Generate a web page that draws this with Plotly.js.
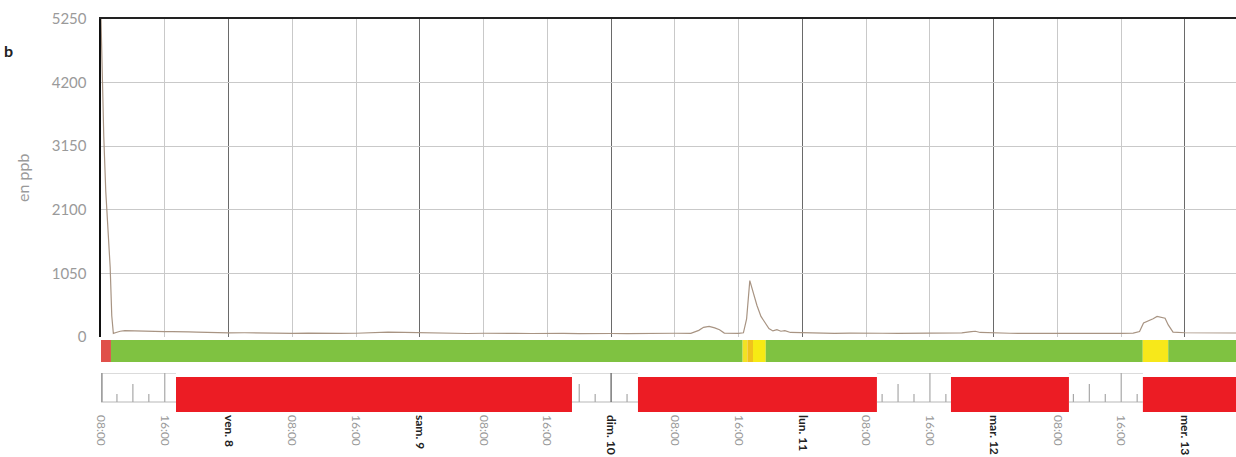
<!DOCTYPE html>
<html>
<head>
<meta charset="utf-8">
<script src="https://cdn.plot.ly/plotly-3.0.1.min.js"></script>
<style>html,body{margin:0;padding:0;background:#fff;}#chart{width:1236px;height:457px;}</style>
</head>
<body>
<div id="chart"></div>
<script>
// Time in hours since Thu 7, 08:00
const hours = [0,0.15,0.35,0.6,0.9,1.15,1.35,1.55,1.9,2.4,
  3,4,5,6,7,8,9,10,11,12,
  14,16,18,20,22,24,26,28,30,32,
  34,36,38,40,42,44,46,48,50,52,
  54,56,58,60,62,64,66,68,70,72,
  74,75,75.6,76.3,77,77.6,78.2,79,80,80.6,
  81,81.4,81.8,82.3,82.8,83.3,83.8,84.3,84.8,85.3,
  85.8,86.5,88,90,92,94,96,98,100,102,
  104,106,108,109.2,109.7,110.3,112,114,116,118,
  120,122,124,126,128,129.5,130.3,130.8,131.4,132,
  132.5,133,133.5,133.9,134.5,136,138,140,142.4];
const ppb = [5250,4300,3300,2400,1700,1150,350,60,75,95,
  105,100,95,92,96,90,88,90,85,80,
  72,68,70,65,62,60,64,58,60,62,
  75,82,78,70,66,60,58,62,65,60,
  58,64,60,56,62,58,55,60,58,62,
  60,110,160,175,150,120,65,58,60,70,
  300,930,750,520,340,230,140,100,120,95,
  105,75,68,62,60,64,58,62,60,65,
  70,68,68,88,95,75,66,62,60,58,
  62,60,58,62,60,64,90,230,260,300,
  340,320,310,200,80,70,68,70,66];

// Status band segments (hours)
const statusStart = [0, 1.25, 80.5, 81.1, 81.8, 83.4, 130.7, 133.9];
const statusEnd   = [1.25, 80.5, 81.1, 81.8, 83.4, 130.7, 133.9, 142.4];
const statusColor = ['#e0504a','#7fc241','#f2e224','#f0c21c','#f7ea14','#7fc241','#f7e81a','#7fc241'];

// Red periods in the lower strip (hours)
const redStart = [9.41, 67.37, 106.64, 130.72];
const redEnd   = [59.09, 97.35, 121.44, 142.4];

// Tick labels every 8 h
const tickHours = [0,8,16,24,32,40,48,56,64,72,80,88,96,104,112,120,128,136];
const tickLabels = ['08:00','16:00','ven. 8','08:00','16:00','sam. 9','08:00','16:00','dim. 10',
  '08:00','16:00','lun. 11','08:00','16:00','mar. 12','08:00','16:00','mer. 13'];
const yTicks = [0,1050,2100,3150,4200,5250];

const xMax = 142.4;
const H = 457;
const dom = (top, bottom) => [(H - bottom) / H, (H - top) / H];

// gaps between red periods (where the ruler is visible)
const gaps = [];
let prev = 0;
redStart.forEach((s, i) => { if (s > prev) gaps.push([prev, s]); prev = redEnd[i]; });
if (prev < xMax) gaps.push([prev, xMax]);
const inGap = t => gaps.some(g => t > g[0] + 0.05 && t < g[1] - 0.05);

// ruler ticks every 2h, frame only over the gaps
const rx = [], ry = [], rxMid = [], ryMid = [], fx = [], fy = [];
for (let t = 2; t <= 142; t += 2) {
  if (!inGap(t)) continue;
  if (t % 8 === 0) {
    const isMid = (t - 16) % 24 === 0;
    (isMid ? rxMid : rx).push(t, t, null);
    (isMid ? ryMid : ry).push(10, 39, null);
  } else {
    const len = (t % 4 === 0) ? 18 : 8;
    rx.push(t, t, null); ry.push(10, 10 + len, null);
  }
}
gaps.forEach(g => { fx.push(g[0], g[1], null, g[0], g[1], null); fy.push(39, 39, null, 10, 10, null); });

const traces = [
  {type:'scatter', mode:'lines', x:hours, y:ppb, xaxis:'x', yaxis:'y',
   line:{color:'#a89483', width:1.2}, hoverinfo:'skip'},
  {type:'bar', orientation:'h', xaxis:'x', yaxis:'y2',
   y: statusStart.map(() => 0.5), base: statusStart,
   x: statusStart.map((s, i) => statusEnd[i] - s), width: 1,
   marker:{color: statusColor, line:{width:0}}, hoverinfo:'skip'},
  {type:'bar', orientation:'h', xaxis:'x2', yaxis:'y3',
   y: redStart.map(() => 17.5), base: redStart,
   x: redStart.map((s, i) => redEnd[i] - s), width: 35,
   marker:{color:'#ec1c24', line:{width:0}}, hoverinfo:'skip'},
  {type:'scatter', mode:'lines', xaxis:'x2', yaxis:'y3',
   x:fx, y:fy, line:{color:'#b8b8b8', width:1.2}, hoverinfo:'skip'},
  {type:'scatter', mode:'lines', xaxis:'x2', yaxis:'y3',
   x:rx, y:ry, line:{color:'#a8a8a8', width:1.2}, hoverinfo:'skip'},
  {type:'scatter', mode:'lines', xaxis:'x2', yaxis:'y3',
   x:rxMid, y:ryMid, line:{color:'#707070', width:1.4}, hoverinfo:'skip'},
  {type:'scatter', mode:'lines', xaxis:'x2', yaxis:'y3',
   x:[0, 0], y:[10, 39], line:{color:'#a0a0a0', width:3.5}, hoverinfo:'skip'}
];

const fontFam = 'Lato, "Open Sans", "DejaVu Sans", sans-serif';
const layout = {
  width:1236, height:457,
  margin:{l:101, r:0, t:0, b:0},
  paper_bgcolor:'#fff', plot_bgcolor:'#fff',
  showlegend:false, barmode:'overlay',
  font:{family:fontFam, color:'#999'},
  xaxis:{anchor:'y', range:[0, xMax], side:'top',
    tickmode:'linear', tick0:16, dtick:24, showgrid:true, gridcolor:'#6a6a6a', gridwidth:1,
    minor:{tick0:0, dtick:8, showgrid:true, gridcolor:'#c9c9c9', gridwidth:1},
    showticklabels:false, ticks:'', zeroline:false,
    showline:true, linecolor:'#222', linewidth:2},
  xaxis2:{anchor:'y3', matches:'x', range:[0, xMax],
    tickmode:'array', tickvals:tickHours,
    ticktext: tickLabels.map(s => s.includes(':') ? s : '<span style="color:#222"><b>' + s + '</b></span>'),
    tickangle:90, ticks:'', showgrid:false, zeroline:false, showline:false,
    ticklabelstandoff:2,
    tickfont:{size:12, color:'#9a9a9a', family:fontFam}},
  yaxis:{domain:dom(19, 337), range:[0, 5250], tickmode:'array', tickvals:yTicks,
    showgrid:true, gridcolor:'#c9c9c9', zeroline:false,
    showline:true, linecolor:'#111', linewidth:2.5, ticks:'',
    ticklabelstandoff:9,
    tickfont:{size:15, color:'#9a9a9a', family:fontFam}},
  yaxis2:{domain:dom(340, 362), range:[0, 1], visible:false, fixedrange:true},
  yaxis3:{domain:dom(373, 412), range:[0, 39], visible:false, fixedrange:true},
  annotations:[
    {text:'en ppb', xref:'paper', yref:'paper', x:(22 - 101) / 1135, y:(H - 178) / H,
     xanchor:'center', yanchor:'middle',
     textangle:-90, showarrow:false, font:{size:16, color:'#9a9a9a', family:fontFam}},
    {text:'<b>b</b>', xref:'paper', yref:'paper', x:(8 - 101) / 1135, y:(H - 50) / H,
     xanchor:'center', yanchor:'middle',
     showarrow:false, font:{size:16, color:'#222', family:fontFam}}
  ]
};

if (hours.length !== ppb.length) console.error('length mismatch', hours.length, ppb.length);
Plotly.newPlot('chart', traces, layout, {staticPlot:true, displayModeBar:false});
</script>
</body>
</html>
